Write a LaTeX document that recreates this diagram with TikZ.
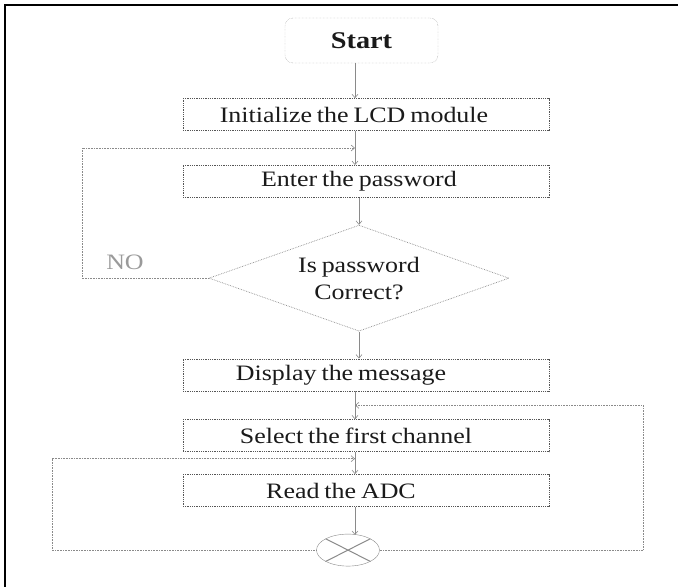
\documentclass[tikz,border=0pt]{standalone}
\usepackage{fontspec}
\setmainfont[FakeStretch=1.18,WordSpace={0.75,0.5,0.3}]{Liberation Serif}
\usetikzlibrary{arrows.meta,positioning,shapes.geometric,calc}
\definecolor{flowline}{HTML}{8A8A8A}
\definecolor{flowedge}{HTML}{555555}
\definecolor{flowtext}{HTML}{1A1A1A}
\definecolor{nogray}{HTML}{9A9A9A}

\begin{document}
\begin{tikzpicture}[
        x=1pt,y=-1pt,
        startbox/.style={draw=flowline,densely dotted,rounded corners=8pt,
                    minimum width=153pt,minimum height=45pt,
                    font=\fontsize{24}{28}\selectfont\bfseries,text=flowtext},
        stepbox/.style={draw=flowedge,densely dotted,line width=.8pt,
                    minimum width=366pt,minimum height=32pt,inner sep=2pt,
                    font=\fontsize{22}{26}\selectfont,text=flowtext},
        testbox/.style={diamond,draw=flowline,densely dotted,line width=.7pt,
                    aspect=2.8,inner sep=0pt,minimum width=300pt,minimum height=106pt,
                    align=center,font=\fontsize{22}{27}\selectfont,text=flowtext},
        joinbox/.style={ellipse,draw=flowline,fill=white,inner sep=0pt,
                    minimum width=63pt,minimum height=32pt,
                    path picture={\draw[flowline,line width=1pt]
                      (path picture bounding box.north west) -- (path picture bounding box.south east)
                      (path picture bounding box.south west) -- (path picture bounding box.north east);}},
        arr/.style={-{Straight Barb[length=3.5pt,width=6pt]},flowline,line width=.6pt},
        loop/.style={arr,densely dotted}
      ]
        \useasboundingbox (0,0) rectangle (678,587);
        \draw[line width=2pt] (678,5) -- (5,5) -- (5,587);

        \node[startbox] (start) at (361.5,40.5) {Start};
        \node[stepbox,below=35pt of start,xshift=4.5pt] (init) {\hspace*{-24pt}Initialize the LCD module};
        \node[stepbox,below=34pt of init] (enter) {\hspace*{-14pt}Enter the password};
        \node[testbox,below=27pt of enter,xshift=-7pt] (test) {Is password\\Correct?};
        \node[stepbox,below=27pt of test,xshift=7pt] (disp) {\hspace*{-50pt}Display the message};
        \node[stepbox,below=28pt of disp] (sel) {\hspace*{-20pt}Select the first channel};
        \node[stepbox,below=22pt of sel] (read) {\hspace*{-50pt}Read the ADC};
        \node[joinbox,below=27pt of read,xshift=-18pt] (tick) {};
        \node[font=\fontsize{22}{26}\selectfont,text=nogray] (no) at (125,262) {NO};

        % x of the main flow line and the turning points of the loops
        \coordinate (axis) at (355,0);
        \coordinate (lfar) at (82,0);
        \coordinate (lnear) at (52,0);
        \coordinate (rfar) at (643,0);
        \coordinate (pwin) at ($(init.south -| axis)!.5!(enter.north -| axis)$);
        \coordinate (chin) at ($(disp.south -| axis)!.5!(sel.north -| axis)$);
        \coordinate (adcin) at ($(sel.south -| axis)!.3!(read.north -| axis)$);

        \draw[arr] (start.south -| axis) -- (init.north -| axis);
        \draw[arr] (init.south -| axis) -- (enter.north -| axis);
        \draw[arr] (enter.south -| test.north) -- (test.north);
        \draw[arr] (test.south) -- (disp.north -| test.south);
        \draw[arr] (disp.south -| axis) -- (sel.north -| axis);
        \draw[arr] (sel.south -| axis) -- (read.north -| axis);
        \draw[arr] (read.south -| axis) -- ($(axis |- tick.north)+(0,1)$);

        \draw[loop] (test.west) -- (test.west -| lfar) |- (pwin);
        \draw[loop] (tick.east) -- (tick.east -| rfar) |- (chin);
        \draw[loop] (tick.west) -- (tick.west -| lnear) |- (adcin);
      \end{tikzpicture}
\end{document}
